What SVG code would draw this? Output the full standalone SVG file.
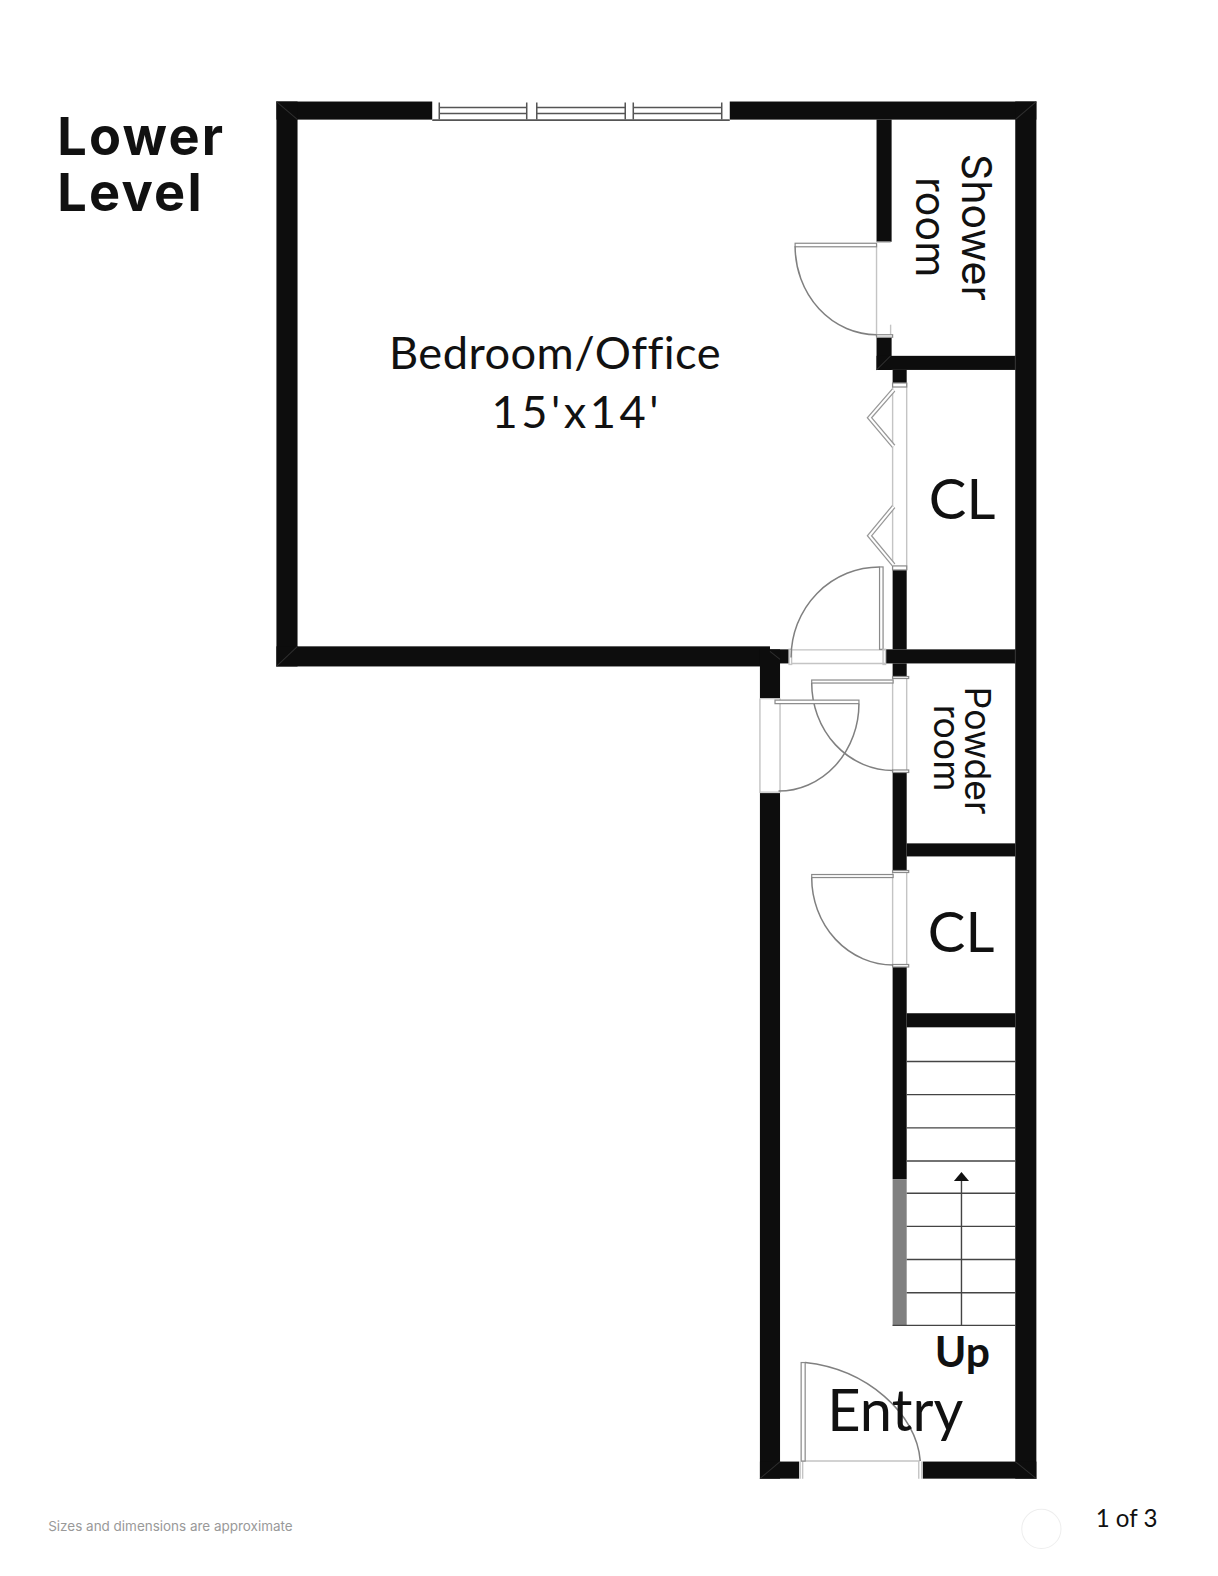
<svg xmlns="http://www.w3.org/2000/svg" width="1218" height="1576" viewBox="0 0 1218 1576">
<style>
.w{fill:#0d0d0d}
.m{stroke:#2e2e2e;stroke-width:1;fill:none}
.j{stroke:#c4c4c4;stroke-width:1.4;fill:none}
.a{stroke:#808080;stroke-width:1.5;fill:none}
.l{stroke:#8a8a8a;stroke-width:1.2;fill:#fff}
.t{stroke:#444;stroke-width:1.4;fill:none}
.g{stroke:#555;stroke-width:1.5;fill:none}
.b1{stroke:#999;stroke-width:4.500;fill:none}
.b2{stroke:#fff;stroke-width:2;fill:none}
text{fill:#111;font-family:Lato,"Liberation Sans",sans-serif}
.h{font-family:Inter,"Liberation Sans",sans-serif;font-weight:700;font-size:52px;letter-spacing:2.200px}
.s{font-family:Inter,"Liberation Sans",sans-serif;font-weight:400}
.f{font-family:Inter,"Liberation Sans",sans-serif;font-weight:400;font-size:13.400px;fill:#999}
</style>
<rect width="1218" height="1576" fill="#fff"/>
<g transform="scale(1.0052)">
<g id="walls">
<rect class="w" x="275" y="101" width="155" height="18"/>
<rect class="w" x="726" y="101" width="305" height="18"/>
<rect class="w" x="275" y="101" width="21" height="562"/>
<rect class="w" x="275" y="643" width="491" height="20"/>
<rect class="w" x="1010" y="101" width="21" height="1370"/>
<rect class="w" x="872" y="119" width="15" height="121.500"/>
<rect class="w" x="872" y="336" width="15" height="32"/>
<rect class="w" x="872" y="354" width="138" height="14"/>
<rect class="w" x="888" y="368" width="14" height="13"/>
<rect class="w" x="888" y="567" width="14" height="79"/>
<rect class="w" x="881" y="646" width="129" height="14"/>
<rect class="w" x="888" y="660" width="14" height="13.500"/>
<rect class="w" x="888" y="769" width="14" height="97"/>
<rect class="w" x="902" y="839" width="108" height="13"/>
<rect class="w" x="888" y="962" width="14" height="211"/>
<rect class="w" x="902" y="1008" width="108" height="14"/>
<rect class="w" x="756" y="646" width="29" height="14"/>
<rect class="w" x="756" y="646" width="20" height="49"/>
<rect class="w" x="756" y="789" width="20" height="682"/>
<rect class="w" x="756" y="1454" width="39" height="17"/>
<rect class="w" x="918" y="1454" width="113" height="17"/>
<rect x="888" y="1173" width="14" height="146" fill="#808080"/>
<path class="m" d="M275 101L296 119M1031 101L1010 119M275 663L296 643M756 1471L776 1454M1031 1471L1010 1454M766 648L776 656M872 368L886 354M1010 354V368M1010 646V660"/>
</g>
<g id="window">
<path class="g" d="M437 102V119M524 102V119M534 102V119M622 102V119M630 102V119M718 102V119"/>
<path class="g" d="M437 107H524M437 113H524M534 107H622M534 113H622M630 107H718M630 113H718M430 119.500H726"/>
</g>
<g id="door-shower">
<path class="j" d="M872 243V335"/>
<path class="j" d="M886 323V333"/>
<rect class="l" x="791" y="242" width="81" height="3.500"/>
<path class="j" d="M872 241H886"/>
<rect class="l" x="872" y="333" width="16" height="2.500"/>
<path class="a" d="M791 245A81 88 0 0 0 872 333"/>
</g>
<g id="door-closet-bifold">
<path class="j" d="M888 381V567M902 381V567"/>
<rect class="l" x="888" y="381" width="14" height="4"/>
<rect class="l" x="888" y="563" width="14" height="4"/>
<path class="b1" d="M889 388L865 415.500L889 444"/>
<path class="b2" d="M889 388L865 415.500L889 444"/>
<path class="b1" d="M889 504L865 533L889 562"/>
<path class="b2" d="M889 504L865 533L889 562"/>
</g>
<g id="door-bedroom">
<path class="j" d="M787 646.500H881M787 660H881"/>
<rect class="l" x="875" y="564" width="3.500" height="82"/>
<rect class="j" x="785" y="646" width="2.500" height="15"/>
<rect class="j" x="878.500" y="646" width="2.500" height="15"/>
<path class="a" d="M875 564A88 90 0 0 0 787 654"/>
</g>
<g id="door-powder">
<path class="j" d="M888 673V769M902 673V769"/>
<rect class="l" x="888" y="673" width="16" height="2"/>
<rect class="l" x="807.500" y="676.500" width="81" height="3"/>
<rect class="l" x="888" y="766" width="16" height="2.500"/>
<path class="a" d="M807.500 679.500A81 87 0 0 0 888.500 766.500"/>
</g>
<g id="door-corridor">
<path class="j" d="M756 695V789M776 695V789M756 695H776M756 788H776"/>
<rect class="l" x="771" y="696.500" width="83.500" height="3.500"/>
<path class="a" d="M854.500 700A80 87 0 0 1 774.500 787"/>
</g>
<g id="door-closet-lower">
<path class="j" d="M888 866V962M902 866V962"/>
<rect class="l" x="888" y="866" width="16" height="2"/>
<rect class="l" x="807.500" y="870" width="81" height="3"/>
<rect class="l" x="888" y="959.500" width="16" height="2.500"/>
<path class="a" d="M807.500 873A81 87 0 0 0 888.500 960"/>
</g>
<g id="stairs">
<path class="t" d="M902 1056H1010M902 1089H1010M902 1122H1010M902 1155H1010M902 1187H1010M902 1220H1010M902 1253H1010M902 1286H1010M888 1318.500H1010M956.500 1318V1172"/>
<path d="M956.500 1166L964 1175H949Z" fill="#111"/>
</g>
<g id="door-entry">
<path class="j" d="M797 1453.500H915M796 1454V1471M798.500 1454V1471M914 1454V1471M917 1454V1471"/>
<rect class="l" x="797" y="1355.500" width="4" height="98"/>
<path class="a" d="M801 1355.500C862 1362 912 1406 915.500 1453.500"/>
</g>
<g id="labels">
<text class="h" x="57" y="154">Lower</text>
<text class="h" x="57" y="210">Level</text>
<text x="387" y="367" font-size="45" letter-spacing="0.450">Bedroom/Office</text>
<text x="489" y="426" font-size="45" letter-spacing="3.500">15'x14'</text>
<text class="s" font-size="41" transform="translate(957,153) rotate(90)">Shower</text>
<text class="s" font-size="41" transform="translate(911,176) rotate(90)">room</text>
<text x="924" y="516" font-size="56">CL</text>
<text class="s" font-size="35.500" transform="translate(960,683) rotate(90)">Powder</text>
<text class="s" font-size="35.500" transform="translate(929,701) rotate(90)">room</text>
<text x="923" y="947" font-size="56">CL</text>
<text x="930" y="1360" font-size="42.500" font-weight="700">Up</text>
<text x="823" y="1424" font-size="57.500">Entry</text>
<text class="f" x="48" y="1523">Sizes and dimensions are approximate</text>
<text x="1090" y="1519" font-size="24">1 of 3</text>
</g>
<circle cx="1036" cy="1521" r="19.500" fill="#fff" stroke="#eee"/>
</g>
</svg>
